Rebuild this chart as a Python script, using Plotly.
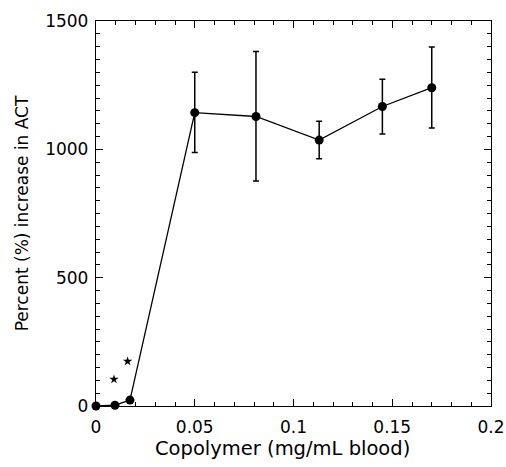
import plotly.graph_objects as go

x_vals = [0.0, 0.0096, 0.0172, 0.050, 0.081, 0.113, 0.145, 0.170]
y_vals = [0, 3, 23, 1143, 1128, 1036, 1167, 1240]
err_plus = [0, 0, 0, 157, 253, 73, 106, 159]
err_minus = [0, 0, 0, 155, 251, 73, 107, 157]
star_x = [0.0091, 0.0160]
star_y = [104, 174]
x_ticks = [0, 0.05, 0.1, 0.15, 0.2]
x_tick_text = ["0", "0.05", "0.1", "0.15", "0.2"]
y_ticks = [0, 500, 1000, 1500]
x_title = "Copolymer (mg/mL blood)"
y_title = "Percent (%) increase in ACT"

font = "DejaVu Sans, Liberation Sans, Arial, sans-serif"

fig = go.Figure()
fig.add_trace(go.Scatter(
    x=x_vals, y=y_vals, mode="lines+markers",
    line=dict(color="black", width=1.3),
    marker=dict(color="black", size=9),
    error_y=dict(type="data", symmetric=False, array=err_plus, arrayminus=err_minus,
                 color="black", thickness=1.5, width=3),
    cliponaxis=False, showlegend=False, hoverinfo="skip"))
fig.add_trace(go.Scatter(
    x=star_x, y=star_y, mode="markers",
    marker=dict(symbol="star", size=7, color="black", line=dict(width=0)),
    showlegend=False, hoverinfo="skip"))

axis_common = dict(
    showline=True, linecolor="black", linewidth=1.2, mirror="ticks",
    ticks="inside", ticklen=7, tickwidth=1, tickcolor="black",
    showgrid=False, zeroline=False, automargin=False,
    tickfont=dict(family=font, size=17, color="black"),
)
fig.update_layout(
    width=506, height=467,
    margin=dict(l=96, r=15, t=21, b=61),
    paper_bgcolor="white", plot_bgcolor="white",
    xaxis=dict(range=[0, 0.2], tickvals=x_ticks, ticktext=x_tick_text, ticklabelstandoff=5,
               minor=dict(dtick=0.01, ticks="inside", ticklen=4, tickcolor="black", showgrid=False),
               **axis_common),
    yaxis=dict(range=[0, 1500], tickvals=y_ticks, ticklabelstandoff=3,
               minor=dict(dtick=50, ticks="inside", ticklen=4, tickcolor="black", showgrid=False),
               title=dict(text=y_title, font=dict(family=font, size=17, color="black"), standoff=12),
               **axis_common),
    annotations=[dict(text=x_title, xref="paper", yref="paper", x=0.471, y=-0.110,
                      xanchor="center", yanchor="middle", showarrow=False,
                      font=dict(family=font, size=19.5, color="black"))],
)
fig.write_html("out.html", post_script="document.body.style.margin='0';",
               config={"displayModeBar": False, "staticPlot": True})
